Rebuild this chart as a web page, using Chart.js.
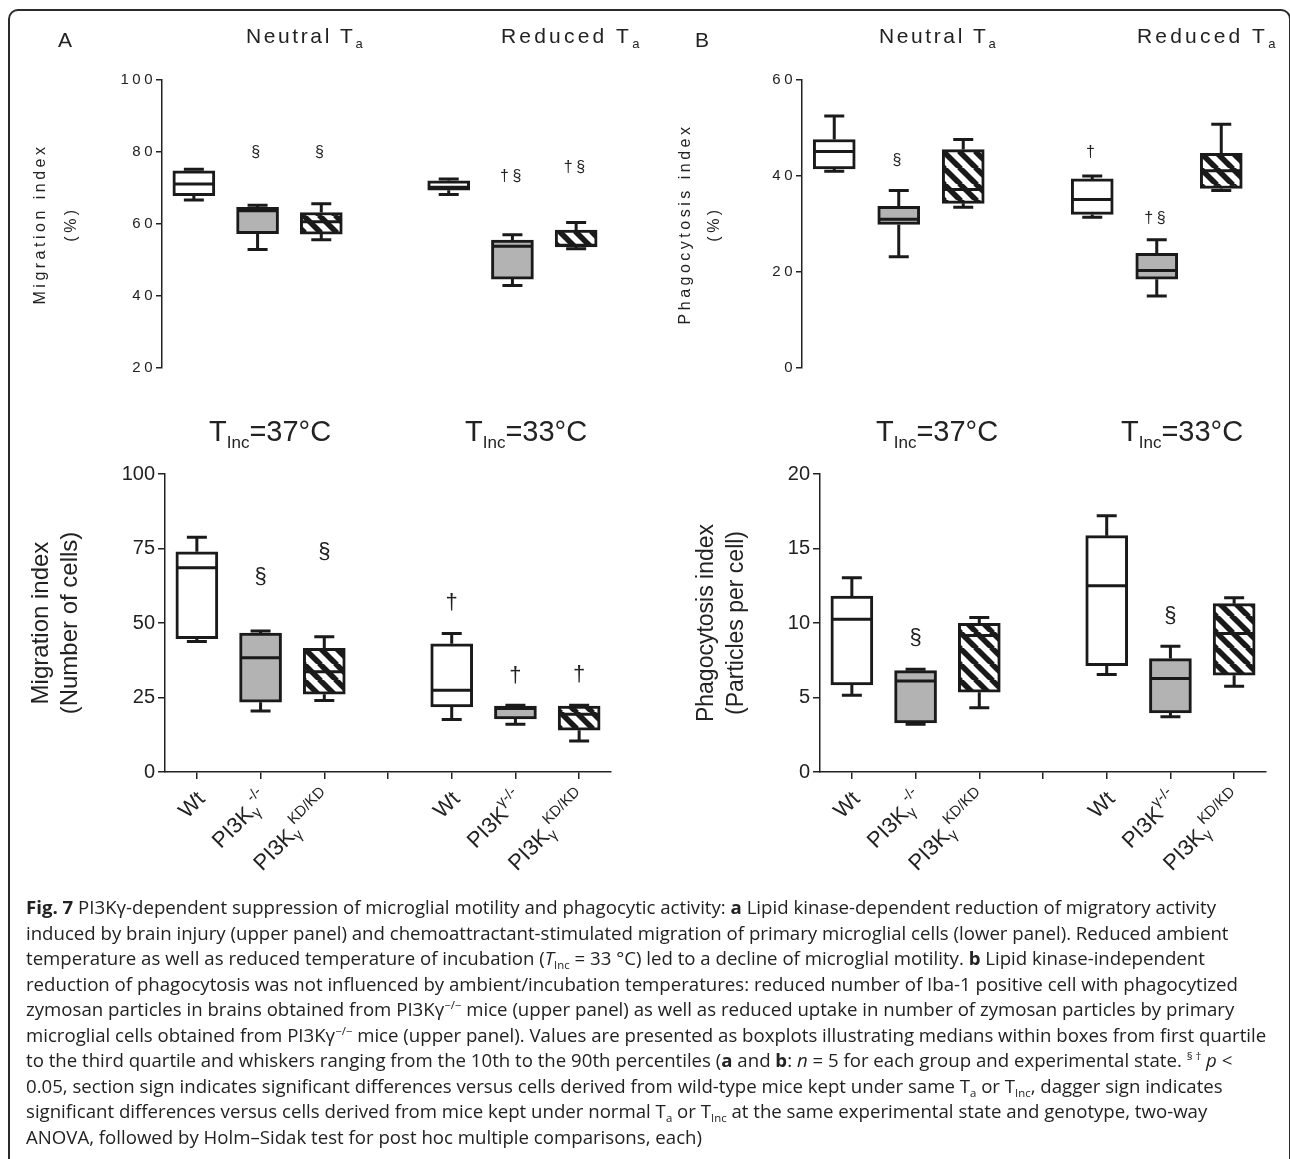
<!DOCTYPE html>
<html><head><meta charset="utf-8">
<script src="https://cdn.jsdelivr.net/npm/chart.js@4.4.1/dist/chart.umd.min.js"></script>
<style>
html,body{margin:0;padding:0;background:#fff}
body{width:1290px;height:1159px;overflow:hidden;position:relative;font-family:"Liberation Sans",Arial,sans-serif;color:#222}
.frame{position:absolute;left:8px;top:9px;width:1279px;height:1200px;border:2px solid #2b2b2b;border-radius:10px}
canvas{position:absolute}
.t{position:absolute;white-space:nowrap;z-index:3}
.hd{font-size:21px;line-height:21px;letter-spacing:2.6px}
.hd .s{font-size:13px;position:relative;top:5px;letter-spacing:0}
.inc{font-size:29px;line-height:29px}
.inc .s{font-size:17px;position:relative;top:7px}
#cap{position:absolute;left:26px;top:895px;transform-origin:0 0;font-family:"Open Sans","Noto Sans",sans-serif;font-size:18px;color:#222;z-index:3}
#cap div{height:25.5px;line-height:25.5px;white-space:nowrap}
#cap sup{font-size:11px;vertical-align:0;position:relative;top:-7px}
#cap sub{font-size:11px;vertical-align:0;position:relative;top:4px}
</style></head><body>
<div class="frame"></div>
<canvas id="cTL" width="630" height="360" style="left:0;top:40px"></canvas>
<canvas id="cTR" width="630" height="360" style="left:640px;top:40px"></canvas>
<canvas id="cBL" width="630" height="460" style="left:0;top:440px"></canvas>
<canvas id="cBR" width="650" height="460" style="left:640px;top:440px"></canvas>

<div class="t hd" style="left:58px;top:29px;letter-spacing:0">A</div>
<div class="t hd" style="left:246px;top:25px">Neutral T<span class="s">a</span></div>
<div class="t hd" style="left:501px;top:25px;letter-spacing:3.2px">Reduced T<span class="s">a</span></div>
<div class="t hd" style="left:695px;top:29px;letter-spacing:0">B</div>
<div class="t hd" style="left:879px;top:25px">Neutral T<span class="s">a</span></div>
<div class="t hd" style="left:1137px;top:25px;letter-spacing:3.2px">Reduced T<span class="s">a</span></div>

<div class="t inc" style="left:209px;top:417px">T<span class="s">Inc</span>=37°C</div>
<div class="t inc" style="left:465px;top:417px">T<span class="s">Inc</span>=33°C</div>
<div class="t inc" style="left:876px;top:417px">T<span class="s">Inc</span>=37°C</div>
<div class="t inc" style="left:1121px;top:417px">T<span class="s">Inc</span>=33°C</div>

<div id="cap">
<div id="l1"><b>Fig. 7</b> PI3Kγ-dependent suppression of microglial motility and phagocytic activity: <b>a</b> Lipid kinase-dependent reduction of migratory activity</div>
<div>induced by brain injury (upper panel) and chemoattractant-stimulated migration of primary microglial cells (lower panel). Reduced ambient</div>
<div>temperature as well as reduced temperature of incubation (<i>T</i><sub>Inc</sub> = 33 °C) led to a decline of microglial motility. <b>b</b> Lipid kinase-independent</div>
<div>reduction of phagocytosis was not influenced by ambient/incubation temperatures: reduced number of Iba-1 positive cell with phagocytized</div>
<div>zymosan particles in brains obtained from PI3Kγ<sup>−/−</sup> mice (upper panel) as well as reduced uptake in number of zymosan particles by primary</div>
<div>microglial cells obtained from PI3Kγ<sup>−/−</sup> mice (upper panel). Values are presented as boxplots illustrating medians within boxes from first quartile</div>
<div>to the third quartile and whiskers ranging from the 10th to the 90th percentiles (<b>a</b> and <b>b</b>: <i>n</i> = 5 for each group and experimental state. <sup>§ †</sup> <i>p</i> &lt;</div>
<div>0.05, section sign indicates significant differences versus cells derived from wild-type mice kept under same T<sub>a</sub> or T<sub>Inc</sub>, dagger sign indicates</div>
<div>significant differences versus cells derived from mice kept under normal T<sub>a</sub> or T<sub>Inc</sub> at the same experimental state and genotype, two-way</div>
<div>ANOVA, followed by Holm–Sidak test for post hoc multiple comparisons, each)</div>
</div>

<script>
// ---------------- DATA ----------------
const categories = ['Wt','PI3Kγ-/-','PI3Kγ KD/KD','','Wt','PI3Kγ-/-','PI3Kγ KD/KD'];

// A upper: Migration index (%)
const migPctQ1  = [67.9, 57.3, 57.2, null, 69.4, 44.7, 53.6];
const migPctQ3  = [74.8, 64.6, 63.2, null, 72.0, 55.5, 58.3];
const migPctMed = [71.1, 63.7, 60.6, null, 70.2, 53.8, 54.1];
const migPctLo  = [66.7, 52.9, 55.6, null, 68.2, 42.9, 53.1];
const migPctHi  = [75.2, 65.2, 65.6, null, 72.5, 57.0, 60.4];
const migPctNotes  = ['', '§', '§', '', '', '†§', '†§'];
const migPctNoteY  = [null, 79.8, 79.8, null, null, 73.1, 75.8];
const migPctTicks  = [20, 40, 60, 80, 100];

// B upper: Phagocytosis index (%)
const phaPctQ1  = [41.5, 29.9, 34.3, null, 32.0, 18.5, 37.4];
const phaPctQ3  = [47.6, 33.7, 45.5, null, 39.4, 23.9, 44.7];
const phaPctMed = [45.1, 31.0, 37.2, null, 35.1, 20.3, 41.1];
const phaPctLo  = [41.0, 23.2, 33.5, null, 31.4, 15.0, 37.0];
const phaPctHi  = [52.5, 37.0, 47.6, null, 40.0, 26.7, 50.8];
const phaPctNotes = ['', '§', '', '', '†', '†§', ''];
const phaPctNoteY = [null, 43.3, null, null, 44.9, 31.2, null];
const phaPctTicks = [0, 20, 40, 60];

// A lower: Migration index (Number of cells)
const migCellQ1  = [44.7, 23.4, 26.1, null, 21.8, 17.8, 14.0];
const migCellQ3  = [73.9, 46.6, 41.5, null, 43.0, 22.1, 22.1];
const migCellMed = [68.5, 38.3, 33.6, null, 27.4, 21.3, 19.4];
const migCellLo  = [43.8, 20.5, 24.0, null, 17.6, 16.0, 10.4];
const migCellHi  = [78.8, 47.3, 45.4, null, 46.5, 22.4, 22.4];
const migCellNotes = ['', '§', '§', '', '†', '†', '†'];
const migCellNoteY = [null, 65.4, 73.8, null, 56.7, 32.2, 32.6];
const migCellTicks = [0, 25, 50, 75, 100];

// B lower: Phagocytosis index (Particles per cell)
const phaCellQ1  = [5.84, 3.30, 5.35, null, 7.14, 3.96, 6.50];
const phaCellQ3  = [11.80, 6.80, 9.97, null, 15.86, 7.61, 11.30];
const phaCellMed = [10.25, 6.10, 9.16, null, 12.50, 6.27, 9.29];
const phaCellLo  = [5.15, 3.20, 4.32, null, 6.54, 3.70, 5.76];
const phaCellHi  = [13.03, 6.90, 10.37, null, 17.20, 8.44, 11.70];
const phaCellNotes = ['', '§', '', '', '', '§', ''];
const phaCellNoteY = [null, 9.0, null, null, null, 10.5, null];
const phaCellTicks = [0, 5, 10, 15, 20];

// rich x labels (text pieces: n = normal, sub = subscript, sup = superscript)
const xLabelParts = [
  [['Wt','n']],
  [['PI3K','n'],['γ','sub'],['-/-','sup']],
  [['PI3K','n'],['γ','sub'],['KD/KD','sup']],
  [],
  [['Wt','n']],
  [['PI3K','n'],['γ-/-','sup']],
  [['PI3K','n'],['γ','sub'],['KD/KD','sup']]
];

// -------------- STYLE HELPERS --------------
const INK = '#1a1a1a';
const GRAY = '#b3b3b3';
function hasFont(name){
  const c = document.createElement('canvas').getContext('2d');
  c.font = '40px monospace'; const a = c.measureText('abcdefghij0123').width;
  c.font = '40px "' + name + '", monospace'; const b = c.measureText('abcdefghij0123').width;
  return a !== b;
}
const NARROW = hasFont('Liberation Sans Narrow');
const tickFontLow = NARROW ? {family:'"Liberation Sans Narrow"', size:24} : {family:'"Liberation Sans"', size:20};

function hatch(){
  const s = 16, c = document.createElement('canvas'); c.width = s; c.height = s;
  const g = c.getContext('2d');
  g.fillStyle = '#fff'; g.fillRect(0,0,s,s);
  g.strokeStyle = INK; g.lineWidth = 5.5;
  [-s,0,s].forEach(dx=>{ g.beginPath(); g.moveTo(dx-1,-1); g.lineTo(dx+s+1,s+1); g.stroke(); });
  return g.createPattern(c,'repeat');
}
const HATCH = hatch();
const fills = ['#ffffff', GRAY, HATCH, 'rgba(0,0,0,0)', '#ffffff', GRAY, HATCH];

const boxPlugin = {
  id:'boxparts',
  afterDatasetsDraw(chart){
    const ds = chart.data.datasets[0], meta = chart.getDatasetMeta(0), y = chart.scales.y, ctx = chart.ctx;
    const o = chart.options.plugins.boxparts;
    ctx.save();
    ctx.strokeStyle = INK; ctx.lineWidth = 3; ctx.lineCap = 'butt';
    meta.data.forEach((bar,i)=>{
      if (ds.med[i] == null) return;
      const x = bar.x, hw = bar.width/2, cw = o.cap/2;
      const yq1 = y.getPixelForValue(ds.data[i][0]), yq3 = y.getPixelForValue(ds.data[i][1]);
      const yl = y.getPixelForValue(ds.lo[i]), yh = y.getPixelForValue(ds.hi[i]), ym = y.getPixelForValue(ds.med[i]);
      ctx.beginPath();
      ctx.moveTo(x, yq3); ctx.lineTo(x, yh); ctx.moveTo(x-cw, yh); ctx.lineTo(x+cw, yh);
      ctx.moveTo(x, yq1); ctx.lineTo(x, yl); ctx.moveTo(x-cw, yl); ctx.lineTo(x+cw, yl);
      ctx.moveTo(x-hw+1.5, ym); ctx.lineTo(x+hw-1.5, ym);
      ctx.stroke();
      const note = ds.notes[i];
      if (note) {
        ctx.fillStyle = '#222'; ctx.font = o.noteFont; ctx.textAlign = 'center'; ctx.textBaseline = 'middle';
        ctx.fillText(note, x, y.getPixelForValue(ds.noteY[i]));
      }
    });
    ctx.restore();
  },
  afterDraw(chart){
    const o = chart.options.plugins.boxparts;
    if (!o.richLabels) return;
    const ctx = chart.ctx, xs = chart.scales.x, base = chart.chartArea.bottom + 24;
    ctx.save();
    ctx.fillStyle = '#222';
    xLabelParts.forEach((parts,i)=>{
      if (!parts.length) return;
      const fontOf = k => (k==='n' ? '22px' : '15px') + ' "Liberation Sans", Arial, sans-serif';
      const dyOf = k => k==='sub' ? 6 : (k==='sup' ? -9 : 0);
      let total = 0;
      parts.forEach(([t,k])=>{ ctx.font = fontOf(k); total += ctx.measureText(t).width; });
      ctx.save();
      ctx.translate(xs.getPixelForTick(i) + 5, base);
      ctx.rotate(-Math.PI/4);
      ctx.textAlign = 'left'; ctx.textBaseline = 'middle';
      let cx = -total;
      parts.forEach(([t,k])=>{ ctx.font = fontOf(k); ctx.fillText(t, cx, dyOf(k)); cx += ctx.measureText(t).width; });
      ctx.restore();
    });
    ctx.restore();
  }
};

const spacingPlugin = {
  id:'spacing',
  beforeDraw(chart){ chart.ctx.letterSpacing = chart.options.plugins.spacing.value || '0px'; }
};

function makeChart(id, c){
  return new Chart(document.getElementById(id), {
    type:'bar',
    data:{
      labels: categories,
      datasets:[{
        data: c.q1.map((v,i)=> v==null ? null : [v, c.q3[i]]),
        med:c.med, lo:c.lo, hi:c.hi, notes:c.notes, noteY:c.noteY,
        backgroundColor: fills, borderColor: INK, borderWidth: 3, borderSkipped:false,
        barThickness: 42
      }]
    },
    options:{
      responsive:false, animation:false, devicePixelRatio:1,
      layout:{padding:c.pad},
      plugins:{
        legend:{display:false}, tooltip:{enabled:false},
        boxparts:{cap:20, noteFont:c.noteFont, richLabels:c.lower},
        spacing:{value:c.spacing}
      },
      scales:{
        x:{
          display: c.lower,
          offset:true,
          grid:{offset:false, drawOnChartArea:false, drawTicks:true, tickLength:7, color:'#222', lineWidth:1.5},
          border:{display:true, color:'#222', width:1.5},
          ticks:{display:false},
          afterFit(s){ s.height = 10; }
        },
        y:{
          min:c.ticks[0], max:c.ticks[c.ticks.length-1],
          afterBuildTicks(s){ s.ticks = c.ticks.map(v=>({value:v})); },
          grid:{drawOnChartArea:false, drawTicks:true, tickLength:c.tickLen, color:'#222', lineWidth:1.5},
          border:{display:true, color:'#222', width:1.5},
          ticks:{color:'#222', font:c.tickFont, padding:c.tickPad},
          title:{display:true, text:c.title, color:'#222', font:c.titleFont, padding:{top:c.titlePad, bottom:0}},
          afterFit(s){ s.width = c.yWidth; }
        }
      }
    },
    plugins:[spacingPlugin, boxPlugin]
  });
}

function draw(){
  const upperTick = {family:'"Liberation Sans", Arial, sans-serif', size:15};
  makeChart('cTL', {q1:migPctQ1,q3:migPctQ3,med:migPctMed,lo:migPctLo,hi:migPctHi,notes:migPctNotes,noteY:migPctNoteY,ticks:migPctTicks,
    pad:{top:40,bottom:22,left:0,right:22}, yWidth:162, lower:false, spacing:'3.5px',
    tickFont:upperTick, tickLen:6, tickPad:0,
    title:['Migration index','(%)'], titleFont:{family:'"Liberation Sans", Arial, sans-serif', size:16, lineHeight:31/16}, titlePad:25.5,
    noteFont:'16px "Liberation Sans", Arial, sans-serif'});
  makeChart('cTR', {q1:phaPctQ1,q3:phaPctQ3,med:phaPctMed,lo:phaPctLo,hi:phaPctHi,notes:phaPctNotes,noteY:phaPctNoteY,ticks:phaPctTicks,
    pad:{top:40,bottom:22,left:0,right:16.5}, yWidth:162, lower:false, spacing:'3.5px',
    tickFont:upperTick, tickLen:6, tickPad:0,
    title:['Phagocytosis index','(%)'], titleFont:{family:'"Liberation Sans", Arial, sans-serif', size:16, lineHeight:29/16}, titlePad:31.5,
    noteFont:'16px "Liberation Sans", Arial, sans-serif'});
  makeChart('cBL', {q1:migCellQ1,q3:migCellQ3,med:migCellMed,lo:migCellLo,hi:migCellHi,notes:migCellNotes,noteY:migCellNoteY,ticks:migCellTicks,
    pad:{top:34,bottom:118,left:0,right:19}, yWidth:165, lower:true, spacing:'0px',
    tickFont:tickFontLow, tickLen:7, tickPad:3,
    title:['Migration index','(Number of cells)'], titleFont:{family:'"Liberation Sans", Arial, sans-serif', size:24, lineHeight:29/24}, titlePad:26.5,
    noteFont:'22px "Liberation Sans", Arial, sans-serif'});
  makeChart('cBR', {q1:phaCellQ1,q3:phaCellQ3,med:phaCellMed,lo:phaCellLo,hi:phaCellHi,notes:phaCellNotes,noteY:phaCellNoteY,ticks:phaCellTicks,
    pad:{top:34,bottom:118,left:0,right:24}, yWidth:180, lower:true, spacing:'0px',
    tickFont:tickFontLow, tickLen:7, tickPad:3,
    title:['Phagocytosis index','(Particles per cell)'], titleFont:{family:'"Liberation Sans", Arial, sans-serif', size:23, lineHeight:30/23}, titlePad:52,
    noteFont:'22px "Liberation Sans", Arial, sans-serif'});

  // fit caption to the reference line width
  const l1 = document.getElementById('l1');
  const r = document.createRange(); r.selectNodeContents(l1);
  const w = r.getBoundingClientRect().width;
  document.getElementById('cap').style.transform = 'scaleX(' + (1190 / w) + ')';
}
draw();
</script>
</body></html>
